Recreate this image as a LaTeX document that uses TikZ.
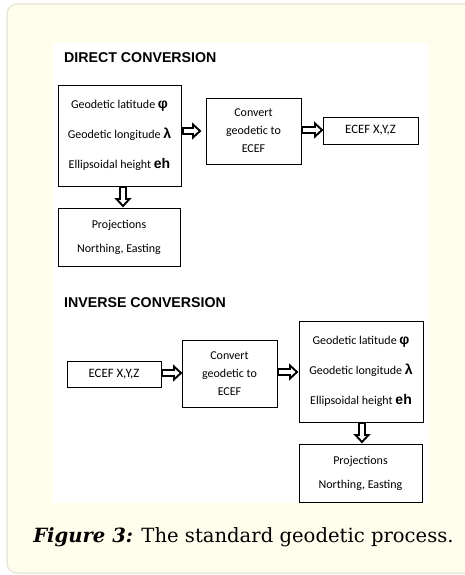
\documentclass[tikz,border=0pt]{standalone}
\usepackage{fontspec}
\setmainfont{Carlito}
\newfontfamily\headfont{Liberation Sans}
\newfontfamily\capfont{DejaVu Serif}
\usetikzlibrary{calc}
\definecolor{panelbg}{RGB}{255,253,236}
\definecolor{panelborder}{RGB}{234,232,220}
\tikzset{
  box/.style={draw=black, line width=0.8pt, fill=white, align=center, inner sep=0pt},
  wide/.style={font=\fontsize{12}{30}\selectfont},
  mid/.style={font=\fontsize{12}{24}\selectfont},
  tight/.style={font=\fontsize{12}{18}\selectfont},
  single/.style={font=\fontsize{12.8}{14}\selectfont},
  blockar/.style={draw=black, line width=1.9pt, fill=white, line join=miter},
  head/.style={font=\headfont\bfseries\fontsize{14.2}{16}\selectfont, anchor=west, inner sep=0pt},
  caption/.style={font=\capfont\fontsize{19.6}{22}\selectfont, inner sep=0pt},
}
\newcommand\gsym[1]{{\headfont\bfseries\fontsize{14}{14}\selectfont #1}}
\newcommand\harr[2]{\draw[blockar] let \p1=(#1), \p2=(#2) in
  (\x1,\y1+3pt) -- (\x2-7pt,\y1+3pt) -- (\x2-7pt,\y1+6.5pt) -- (\x2,\y1) --
  (\x2-7pt,\y1-6.5pt) -- (\x2-7pt,\y1-3pt) -- (\x1,\y1-3pt) -- cycle;}
\newcommand\varr[2]{\draw[blockar] let \p1=(#1), \p2=(#2) in
  (\x1+3pt,\y1) -- (\x1+3pt,\y2+7pt) -- (\x1+6.5pt,\y2+7pt) -- (\x1,\y2) --
  (\x1-6.5pt,\y2+7pt) -- (\x1-3pt,\y2+7pt) -- (\x1-3pt,\y1) -- cycle;}
\begin{document}
\begin{tikzpicture}[x=1pt,y=-1pt]
\useasboundingbox (0,0) rectangle (465,575);
\fill[panelbg, draw=panelborder, line width=1.5pt, rounded corners=10pt] (7,4) rectangle (480,573);
\fill[white] (53,43) rectangle (428,503);

\node[head] (h1) at (64,58) {DIRECT CONVERSION};
\node[box, wide, minimum width=123pt, minimum height=101pt] (b1) at (119.5,135.5)
  {Geodetic latitude \gsym{φ}\\Geodetic longitude \gsym{λ}\\Ellipsoidal height \gsym{eh}};
\node[box, tight, minimum width=95pt, minimum height=66pt] (b2) at (253.5,131)
  {Convert\\geodetic to\\ECEF};
\node[box, single, minimum width=95pt, minimum height=27pt] (b3) at (370.5,130.5) {ECEF X,Y,Z};
\node[box, mid, minimum width=122pt, minimum height=58pt] (b4) at (119,237)
  {Projections\\Northing, Easting};

\coordinate (a1s) at (183,131);
\coordinate (a1e) at (200,131);
\coordinate (a2s) at (302,130);
\coordinate (a2e) at (322,130);
\coordinate (d1s) at (123,187);
\coordinate (d1e) at (123,206);
\harr{a1s}{a1e}
\harr{a2s}{a2e}
\varr{d1s}{d1e}

\node[head] (h2) at (64,303) {INVERSE CONVERSION};
\node[box, single, minimum width=94pt, minimum height=26pt] (b5) at (114,374) {ECEF X,Y,Z};
\node[box, tight, minimum width=95pt, minimum height=67pt] (b6) at (229.5,373.5)
  {Convert\\geodetic to\\ECEF};
\node[box, wide, minimum width=124pt, minimum height=101pt] (b7) at (361,371.5)
  {Geodetic latitude \gsym{φ}\\Geodetic longitude \gsym{λ}\\Ellipsoidal height \gsym{eh}};
\node[box, mid, minimum width=123pt, minimum height=58pt] (b8) at (360.5,473)
  {Projections\\Northing, Easting};

\coordinate (a3s) at (162,373);
\coordinate (a3e) at (181,373);
\coordinate (a4s) at (278,372);
\coordinate (a4e) at (297,372);
\coordinate (d2s) at (362,423);
\coordinate (d2e) at (362,442);
\harr{a3s}{a3e}
\harr{a4s}{a4e}
\varr{d2s}{d2e}

\node[caption] (cap) at (243.5,537) {\textbf{\textit{Figure 3:}} The standard geodetic process.};
\end{tikzpicture}
\end{document}
